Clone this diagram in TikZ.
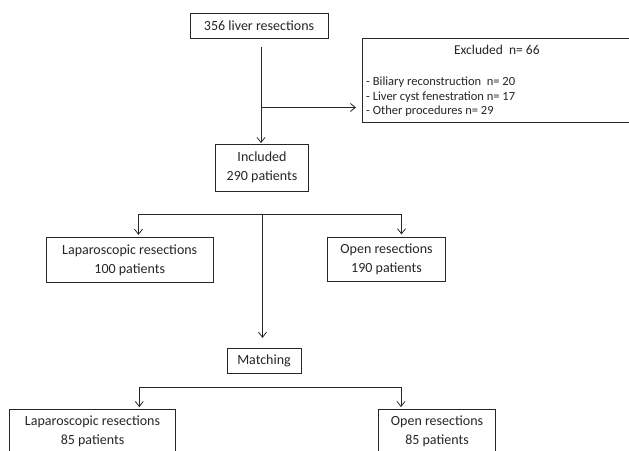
\documentclass[tikz,border=0pt]{standalone}
\usepackage{fontspec}
\setmainfont{Carlito}
\usetikzlibrary{arrows.meta,positioning}
\definecolor{Ink}{HTML}{262626}

\begin{document}
\begin{tikzpicture}[x=1pt, y=-1pt,
    box/.style={draw=Ink, line width=0.8pt, inner sep=0pt, align=center,
                font=\fontsize{14}{19}\selectfont, text=Ink},
    lbl/.style={font=\fontsize{12.5}{14.7}\selectfont, text=Ink, inner sep=0pt},
    ln/.style={draw=Ink, line width=0.8pt},
    ar/.style={ln, -{Straight Barb[length=5pt,width=8pt]}}]
    \useasboundingbox[fill=white] (0,0) rectangle (629,450);
    % boxes
    \node[box, minimum width=138pt, minimum height=25pt] (total) at (259,25.5) {356 liver resections};
    \node[box, anchor=north west, minimum width=270pt, minimum height=84pt] (excl) at (361.5,38) {};
    \node[lbl, font=\fontsize{13.5}{16}\selectfont] (exclhead) at ([yshift=-12pt]excl.north) {Excluded\ \ n= 66};
    \node[lbl, anchor=west, align=left] (excllist) at ([xshift=4.5pt, yshift=-16.5pt]excl.west)
      {- Biliary reconstruction\ \ n= 20\\- Liver cyst fenestration n= 17\\- Other procedures n= 29};
    \node[box, minimum width=92.5pt, minimum height=47pt] (incl)  at (262,167.5) {Included\\290 patients};
    \node[box, minimum width=167pt, minimum height=44.5pt] (lap)  at (129.7,260) {Laparoscopic resections\\100 patients};
    \node[box, minimum width=118.5pt, minimum height=43.5pt] (open) at (386.5,259.5) {Open resections\\190 patients};
    \node[box, minimum width=74pt, minimum height=24.5pt] (match) at (264,361) {Matching};
    \node[box, minimum width=166.5pt, minimum height=45pt] (lapm) at (92.5,431.5) {Laparoscopic resections\\85 patients};
    \node[box, minimum width=117.5pt, minimum height=45pt] (openm) at (437,431.5) {Open resections\\85 patients};
    % connectors
    \coordinate (t1) at (261,47);
    \coordinate (t2) at (261,107.5);
    \draw[ar, shorten >=0.5pt] (t1) -- (t1 |- incl.north);
    \draw[ar, shorten >=5.5pt] (t2) -- (t2 -| excl.west);
    \coordinate (s1l) at (138.5,214); \coordinate (s1m) at (262.5,214); \coordinate (s1r) at (401.5,214);
    \draw[ln] (s1l) -- (s1r);
    \draw[ar, shorten >=2.5pt] (s1l) -- (s1l |- lap.north);
    \draw[ar, shorten >=3pt] (s1r) -- (s1r |- open.north);
    \draw[ar, shorten >=10.5pt] (s1m) -- (s1m |- match.north);
    \coordinate (s2l) at (139.3,387.3); \coordinate (s2r) at (401,387.3);
    \draw[ln] (s2l) -- (s2r);
    \draw[ar, shorten >=1.5pt] (s2l) -- (s2l |- lapm.north);
    \draw[ar, shorten >=1.5pt] (s2r) -- (s2r |- openm.north);
\end{tikzpicture}
\end{document}
